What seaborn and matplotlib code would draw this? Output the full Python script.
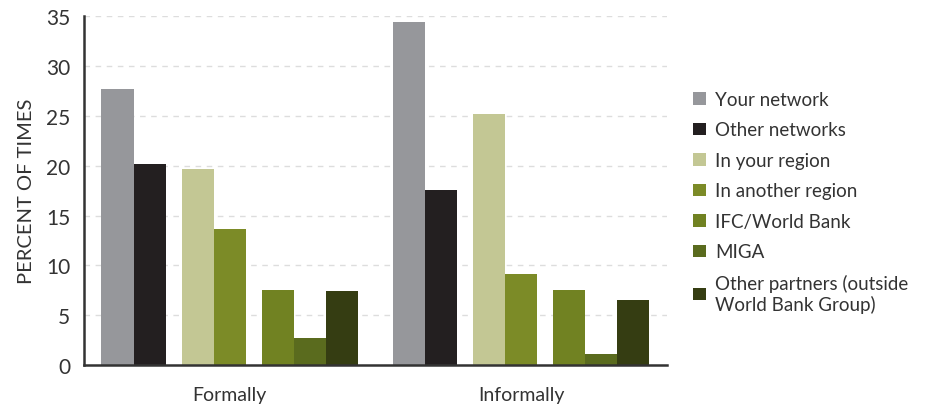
import pandas as pd
import seaborn as sns
import matplotlib.pyplot as plt

# Datos
categorias = ["Formally", "Informally"]
series = ["Your network", "Other networks", "In your region", "In another region",
          "IFC/World Bank", "MIGA", "Other partners (outside\nWorld Bank Group)"]
formally = [27.7, 20.2, 19.7, 13.6, 7.5, 2.7, 7.4]
informally = [34.4, 17.6, 25.2, 9.1, 7.5, 1.1, 6.5]
colores = ["#96979b", "#231f20", "#c3c794", "#7c8b27", "#718222", "#5a6b1e", "#353d12"]

# posición de cada barra dentro del grupo (en anchos de barra, con huecos entre subgrupos)
slots = [0, 1, 2.5, 3.5, 5, 6, 7]
ancho = 0.11

filas = []
for i, (cat, vals) in enumerate(zip(categorias, [formally, informally])):
    for s, v, sl in zip(series, vals, slots):
        filas.append({"cat": cat, "serie": s, "valor": v,
                      "x": i + (sl - 3.5) * ancho})
df = pd.DataFrame(filas)

sns.set_style("white")
plt.rcParams['font.family'] = ['Lato', 'DejaVu Sans']

fig = plt.figure(figsize=(9.28, 4.10), dpi=100)
ax = fig.add_axes([0.0905, 0.107, 0.628, 0.8515])

sns.barplot(data=df, x="x", y="valor", hue="serie", hue_order=series,
            palette=colores, native_scale=True, dodge=False, width=1.0,
            saturation=1, linewidth=0, ax=ax)

ax.set_xlim(-0.5, 1.5)
ax.set_ylim(0, 35)
ax.set_yticks(range(0, 36, 5))
ax.tick_params(axis="y", labelsize=15, colors="#333333", length=4, width=1, direction="out", pad=6)
ax.yaxis.grid(True, linestyle=(0, (4, 4)), color="#dddddd", linewidth=1)
ax.set_axisbelow(True)

# ticks mayores en los límites de categoría, etiquetas en los centros
ax.set_xticks([-0.5, 0.5, 1.5])
ax.set_xticklabels(["", "", ""])
ax.set_xticks([0, 1], minor=True)
ax.set_xticklabels(categorias, minor=True)
ax.tick_params(axis="x", which="major", length=7, width=1.2, color="#333333", direction="out")
ax.tick_params(axis="x", which="minor", length=0, labelsize=14, labelcolor="#333333", pad=15)

ax.set_xlabel("")
ax.set_ylabel("PERCENT OF TIMES", fontsize=14.5, color="#333333", labelpad=8)

for lado in ["top", "right"]:
    ax.spines[lado].set_visible(False)
for lado in ["left", "bottom"]:
    ax.spines[lado].set_color("#333333")
    ax.spines[lado].set_linewidth(1.8)

handles, labels = ax.get_legend_handles_labels()
ax.legend(handles, labels, loc="center left", bbox_to_anchor=(0.729, 0.505),
          bbox_transform=fig.transFigure, frameon=False, fontsize=13.5,
          handlelength=0.65, handleheight=0.65, handletextpad=0.5, labelspacing=0.72,
          labelcolor="#333333")

fig.savefig("out.png", dpi=100)
